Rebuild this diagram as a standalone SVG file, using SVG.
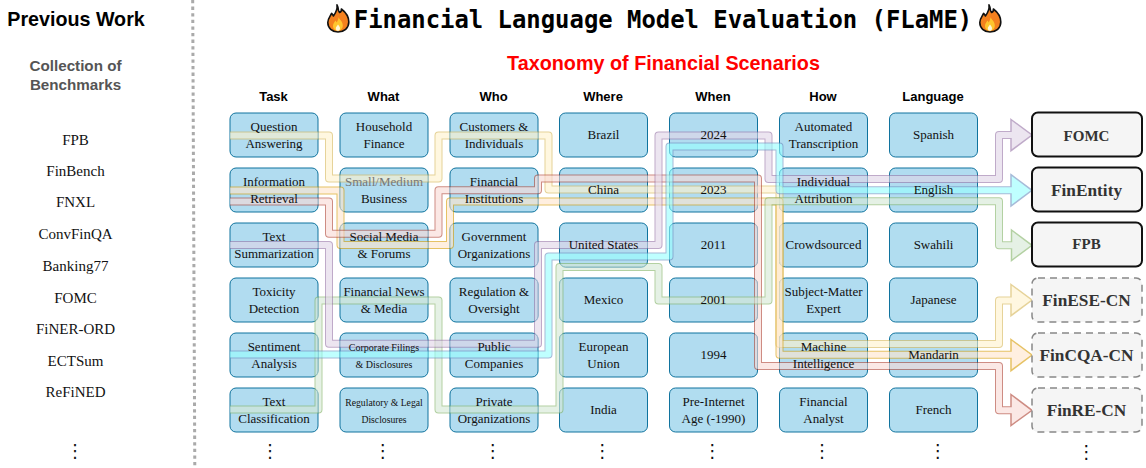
<svg xmlns="http://www.w3.org/2000/svg" xmlns:xlink="http://www.w3.org/1999/xlink" width="1146" height="468" viewBox="0 0 1146 468">
<style>
.n rect{fill:#b1ddf0;stroke:#10739e;stroke-width:1}
.n text{font:13px "Liberation Serif",serif;fill:#111;text-anchor:middle}
.n text.s{font-size:10px}
.n text.t{font-size:9.7px}
.h{font:bold 13px "Liberation Sans",sans-serif;fill:#000;text-anchor:middle}
.b rect{fill:#f5f5f5;stroke:#111;stroke-width:2}
.b.d rect{stroke:#888;stroke-width:1.5;stroke-dasharray:7 5}
.b text{font:bold 17.3px "Liberation Serif",serif;fill:#333;text-anchor:middle}
.l{font:15px "Liberation Serif",serif;fill:#111;text-anchor:middle}
.v{font:18px "DejaVu Sans",sans-serif;fill:#111;text-anchor:middle}
.c{opacity:.6}
.c polyline{fill:none;stroke-linejoin:round}
.c .o{stroke-width:8}
.c .i{stroke-width:6}
.c polygon{stroke-width:1.5;stroke-linejoin:miter}
.yl .o,.yl polygon{stroke:#d6b656}.yl polygon{fill:#fff2cc}.yl .i{stroke:#fff2cc}
.og .o,.og polygon{stroke:#d79b00}.og polygon{fill:#ffe6cc}.og .i{stroke:#ffe6cc}
.rd .o,.rd polygon{stroke:#ae4132}.rd polygon{fill:#fad9d5}.rd .i{stroke:#fad9d5}
.gn .o,.gn polygon{stroke:#82b366}.gn polygon{fill:#d5e8d4}.gn .i{stroke:#d5e8d4}
.pr .o,.pr polygon{stroke:#9673a6}.pr polygon{fill:#e1d5e7}.pr .i{stroke:#e1d5e7}
.cy .o,.cy polygon{stroke:#6c8ebf}.cy polygon{fill:#96ffff}.cy .i{stroke:#96ffff}
</style>
<defs>
<g id="flame">
<path d="M10 0.8C12 4.500 10.500 6.500 12.500 8.500C14 8 14.600 6.600 14.400 5C19 8.500 21.800 13 21.800 18C21.800 24.200 17 28 11 28C5 28 0.800 24 0.800 18.500C0.800 14.500 3.200 12.500 4.600 9.400C5.600 10.200 6 11 6.400 12C8.600 9 10.600 5 10 0.800Z" fill="#f4811f" stroke="#111" stroke-width="1.600" stroke-linejoin="round"/>
<path d="M11.500 13C12.200 15.500 15.800 17.200 15.800 21.600C15.800 24.800 13.600 26.800 11 26.800C8.200 26.800 6 24.800 6 22C6 19.600 7.600 18.400 8.400 16.600C9 17.200 9.400 17.800 9.600 18.400C10.600 17 11.600 15 11.500 13Z" fill="#ffc52e"/>
<path d="M11 20.500C12 22 13 22.800 13 24.400C13 25.800 12 26.800 11 26.800C9.800 26.800 8.800 25.800 8.800 24.400C8.800 22.800 10.200 22.200 11 20.500Z" fill="#fff6d5"/>
</g>
<clipPath id="k11"><rect x="229.500" y="112.500" width="89" height="45" rx="6"/></clipPath>
<clipPath id="k12"><rect x="229.500" y="167.500" width="89" height="45" rx="6"/></clipPath>
<clipPath id="k13"><rect x="229.500" y="222.500" width="89" height="45" rx="6"/></clipPath>
<clipPath id="k14"><rect x="229.500" y="277.500" width="89" height="45" rx="6"/></clipPath>
<clipPath id="k15"><rect x="229.500" y="332.500" width="89" height="45" rx="6"/></clipPath>
<clipPath id="k16"><rect x="229.500" y="387.500" width="89" height="45" rx="6"/></clipPath>
<clipPath id="k22"><rect x="339.500" y="167.500" width="89" height="45" rx="6"/></clipPath>
<clipPath id="k23"><rect x="339.500" y="222.500" width="89" height="45" rx="6"/></clipPath>
<clipPath id="k24"><rect x="339.500" y="277.500" width="89" height="45" rx="6"/></clipPath>
<clipPath id="k25"><rect x="339.500" y="332.500" width="89" height="45" rx="6"/></clipPath>
<clipPath id="k31"><rect x="449.500" y="112.500" width="89" height="45" rx="6"/></clipPath>
<clipPath id="k32"><rect x="449.500" y="167.500" width="89" height="45" rx="6"/></clipPath>
<clipPath id="k33"><rect x="449.500" y="222.500" width="89" height="45" rx="6"/></clipPath>
<clipPath id="k34"><rect x="449.500" y="277.500" width="89" height="45" rx="6"/></clipPath>
<clipPath id="k35"><rect x="449.500" y="332.500" width="89" height="45" rx="6"/></clipPath>
<clipPath id="k36"><rect x="449.500" y="387.500" width="89" height="45" rx="6"/></clipPath>
<clipPath id="k42"><rect x="559" y="167.500" width="89" height="45" rx="6"/></clipPath>
<clipPath id="k43"><rect x="559" y="222.500" width="89" height="45" rx="6"/></clipPath>
<clipPath id="k44"><rect x="559" y="277.500" width="89" height="45" rx="6"/></clipPath>
<clipPath id="k45"><rect x="559" y="332.500" width="89" height="45" rx="6"/></clipPath>
<clipPath id="k46"><rect x="559" y="387.500" width="89" height="45" rx="6"/></clipPath>
<clipPath id="k51"><rect x="669" y="112.500" width="89" height="45" rx="6"/></clipPath>
<clipPath id="k52"><rect x="669" y="167.500" width="89" height="45" rx="6"/></clipPath>
<clipPath id="k53"><rect x="669" y="222.500" width="89" height="45" rx="6"/></clipPath>
<clipPath id="k54"><rect x="669" y="277.500" width="89" height="45" rx="6"/></clipPath>
<clipPath id="k55"><rect x="669" y="332.500" width="89" height="45" rx="6"/></clipPath>
<clipPath id="k61"><rect x="779" y="112.500" width="89" height="45" rx="6"/></clipPath>
<clipPath id="k62"><rect x="779" y="167.500" width="89" height="45" rx="6"/></clipPath>
<clipPath id="k63"><rect x="779" y="222.500" width="89" height="45" rx="6"/></clipPath>
<clipPath id="k64"><rect x="779" y="277.500" width="89" height="45" rx="6"/></clipPath>
<clipPath id="k65"><rect x="779" y="332.500" width="89" height="45" rx="6"/></clipPath>
<clipPath id="k72"><rect x="889" y="167.500" width="89" height="45" rx="6"/></clipPath>
<clipPath id="k75"><rect x="889" y="332.500" width="89" height="45" rx="6"/></clipPath>
</defs>
<rect width="1146" height="468" fill="#fff"/>
<line x1="192.700" y1="0" x2="194.800" y2="468" stroke="#aaa" stroke-width="3" stroke-dasharray="3.300 3.300"/>
<g id="previous-work">
<text x="76" y="26" font-family="Liberation Sans,sans-serif" font-weight="bold" font-size="19.700" text-anchor="middle" fill="#000">Previous Work</text>
<text x="75.500" y="71" font-family="Liberation Sans,sans-serif" font-weight="bold" font-size="15.200" text-anchor="middle" fill="#555">Collection of</text>
<text x="75.500" y="90" font-family="Liberation Sans,sans-serif" font-weight="bold" font-size="15.200" text-anchor="middle" fill="#555">Benchmarks</text>
<text class="l" x="75.500" y="145">FPB</text>
<text class="l" x="75.500" y="176">FinBench</text>
<text class="l" x="75.500" y="207">FNXL</text>
<text class="l" x="75.500" y="239">ConvFinQA</text>
<text class="l" x="75.500" y="271">Banking77</text>
<text class="l" x="75.500" y="303">FOMC</text>
<text class="l" x="75.500" y="334">FiNER-ORD</text>
<text class="l" x="75.500" y="366">ECTSum</text>
<text class="l" x="75.500" y="397">ReFiNED</text>
<text class="v" x="75" y="457">⋮</text>
</g>
<g id="title">
<use xlink:href="#flame" x="327" y="4"/>
<text x="663" y="28" font-family="DejaVu Sans Mono,monospace" font-weight="bold" font-size="23.900" text-anchor="middle" fill="#000">Financial Language Model Evaluation (FLaME)</text>
<use xlink:href="#flame" x="979" y="4"/>
<text x="663.500" y="70" font-family="Liberation Sans,sans-serif" font-weight="bold" font-size="19.800" text-anchor="middle" fill="#f00">Taxonomy of Financial Scenarios</text>
</g>
<g id="headers">
<text class="h" x="273.500" y="101">Task</text>
<text class="h" x="383.500" y="101">What</text>
<text class="h" x="493.500" y="101">Who</text>
<text class="h" x="603" y="101">Where</text>
<text class="h" x="713" y="101">When</text>
<text class="h" x="823" y="101">How</text>
<text class="h" x="933" y="101">Language</text>
</g>
<g id="connectors">
<g class="c yl"><polyline class="o" points="230,135.500 329,135.500 329,178.500 438.500,178.500 438.500,135.500 548.500,135.500 548.500,189.500 779.500,189.500 779.500,344 999,344 999,300.500 1011,300.500"/><polygon points="1011,284.500 1032,300 1011,315.700"/><polyline class="i" points="230,135.500 329,135.500 329,178.500 438.500,178.500 438.500,135.500 548.500,135.500 548.500,189.500 779.500,189.500 779.500,344 999,344 999,300.500 1013,300.500"/></g>
<g class="c og"><polyline class="o" points="230,190.500 340.500,190.500 340.500,245 450,245 450,201.500 779.500,201.500 779.500,354.700 1011,354.700"/><polygon points="1011,339.500 1032,355 1011,370.700"/><polyline class="i" points="230,190.500 340.500,190.500 340.500,245 450,245 450,201.500 779.500,201.500 779.500,354.700 1013,354.700"/></g>
<g class="c rd"><polyline class="o" points="230,201.500 329,201.500 329,233.700 438.500,233.700 438.500,190.300 538,190.300 538,178.500 758,178.500 758,366 999,366 999,410.300 1011,410.300"/><polygon points="1011,394.500 1032,410.300 1011,425.500"/><polyline class="i" points="230,201.500 329,201.500 329,233.700 438.500,233.700 438.500,190.300 538,190.300 538,178.500 758,178.500 758,366 999,366 999,410.300 1013,410.300"/></g>
<g class="c gn"><polyline class="o" points="230,409.500 318.500,409.500 318.500,300.500 438.500,300.500 438.500,409.500 559.500,409.500 559.500,267 658.500,267 658.500,300.500 768.500,300.500 768.500,201.300 999,201.300 999,245.300 1011,245.300"/><polygon points="1011.500,230 1032,245.300 1011.500,260.500"/><polyline class="i" points="230,409.500 318.500,409.500 318.500,300.500 438.500,300.500 438.500,409.500 559.500,409.500 559.500,267 658.500,267 658.500,300.500 768.500,300.500 768.500,201.300 999,201.300 999,245.300 1013,245.300"/></g>
<g class="c pr"><polyline class="o" points="230,245 329,245 329,343.700 538,343.700 538,245 658.500,245 658.500,135.500 768.500,135.500 768.500,179 999,179 999,135 1011,135"/><polygon points="1011,119.500 1032,135 1011,150.700"/><polyline class="i" points="230,245 329,245 329,343.700 538,343.700 538,245 658.500,245 658.500,135.500 768.500,135.500 768.500,179 999,179 999,135 1013,135"/></g>
<g class="c cy"><polyline class="o" points="230,354.500 548.500,354.500 548.500,256.500 669.500,256.500 669.500,146.500 779.500,146.500 779.500,190.300 1011,190.300"/><polygon points="1011,174.700 1032,190.300 1011,206"/><polyline class="i" points="230,354.500 548.500,354.500 548.500,256.500 669.500,256.500 669.500,146.500 779.500,146.500 779.500,190.300 1013,190.300"/></g>
</g>
<g id="n-question" class="n"><rect x="230" y="113" width="88" height="44" rx="6"/><use xlink:href="#connectors" clip-path="url(#k11)"/><text x="274" y="131">Question</text><text x="274" y="148">Answering</text></g>
<g id="n-information" class="n"><rect x="230" y="168" width="88" height="44" rx="6"/><use xlink:href="#connectors" clip-path="url(#k12)"/><text x="274" y="186">Information</text><text x="274" y="203">Retrieval</text></g>
<g id="n-textsum" class="n"><rect x="230" y="223" width="88" height="44" rx="6"/><use xlink:href="#connectors" clip-path="url(#k13)"/><text x="274" y="241">Text</text><text x="274" y="258">Summarization</text></g>
<g id="n-toxicity" class="n"><rect x="230" y="278" width="88" height="44" rx="6"/><use xlink:href="#connectors" clip-path="url(#k14)"/><text x="274" y="296">Toxicity</text><text x="274" y="313">Detection</text></g>
<g id="n-sentiment" class="n"><rect x="230" y="333" width="88" height="44" rx="6"/><use xlink:href="#connectors" clip-path="url(#k15)"/><text x="274" y="351">Sentiment</text><text x="274" y="368">Analysis</text></g>
<g id="n-textclass" class="n"><rect x="230" y="388" width="88" height="44" rx="6"/><use xlink:href="#connectors" clip-path="url(#k16)"/><text x="274" y="406">Text</text><text x="274" y="423">Classification</text></g>
<g id="n-household" class="n"><rect x="340" y="113" width="88" height="44" rx="6"/><text x="384" y="131">Household</text><text x="384" y="148">Finance</text></g>
<g id="n-smallmedium" class="n"><rect x="340" y="168" width="88" height="44" rx="6"/><use xlink:href="#connectors" clip-path="url(#k22)"/><text x="384" y="186" style="fill:#777">Small/Medium</text><text x="384" y="203">Business</text></g>
<g id="n-social" class="n"><rect x="340" y="223" width="88" height="44" rx="6"/><use xlink:href="#connectors" clip-path="url(#k23)"/><text x="384" y="241">Social Media</text><text x="384" y="258">&amp; Forums</text></g>
<g id="n-news" class="n"><rect x="340" y="278" width="88" height="44" rx="6"/><use xlink:href="#connectors" clip-path="url(#k24)"/><text x="384" y="296">Financial News</text><text x="384" y="313">&amp; Media</text></g>
<g id="n-corporate" class="n"><rect x="340" y="333" width="88" height="44" rx="6"/><use xlink:href="#connectors" clip-path="url(#k25)"/><text class="s" x="384" y="351">Corporate Filings</text><text class="s" x="384" y="368">&amp; Disclosures</text></g>
<g id="n-regulatory" class="n"><rect x="340" y="388" width="88" height="44" rx="6"/><text class="t" x="384" y="406">Regulatory &amp; Legal</text><text class="t" x="384" y="423">Disclosures</text></g>
<g id="n-customers" class="n"><rect x="450" y="113" width="88" height="44" rx="6"/><use xlink:href="#connectors" clip-path="url(#k31)"/><text x="494" y="131">Customers &amp;</text><text x="494" y="148">Individuals</text></g>
<g id="n-institutions" class="n"><rect x="450" y="168" width="88" height="44" rx="6"/><use xlink:href="#connectors" clip-path="url(#k32)"/><text x="494" y="186">Financial</text><text x="494" y="203">Institutions</text></g>
<g id="n-government" class="n"><rect x="450" y="223" width="88" height="44" rx="6"/><use xlink:href="#connectors" clip-path="url(#k33)"/><text x="494" y="241">Government</text><text x="494" y="258">Organizations</text></g>
<g id="n-regulation" class="n"><rect x="450" y="278" width="88" height="44" rx="6"/><use xlink:href="#connectors" clip-path="url(#k34)"/><text x="494" y="296">Regulation &amp;</text><text x="494" y="313">Oversight</text></g>
<g id="n-public" class="n"><rect x="450" y="333" width="88" height="44" rx="6"/><use xlink:href="#connectors" clip-path="url(#k35)"/><text x="494" y="351">Public</text><text x="494" y="368">Companies</text></g>
<g id="n-private" class="n"><rect x="450" y="388" width="88" height="44" rx="6"/><use xlink:href="#connectors" clip-path="url(#k36)"/><text x="494" y="406">Private</text><text x="494" y="423">Organizations</text></g>
<g id="n-brazil" class="n"><rect x="559.500" y="113" width="88" height="44" rx="6"/><text x="603.500" y="139">Brazil</text></g>
<g id="n-china" class="n"><rect x="559.500" y="168" width="88" height="44" rx="6"/><use xlink:href="#connectors" clip-path="url(#k42)"/><text x="603.500" y="194">China</text></g>
<g id="n-us" class="n"><rect x="559.500" y="223" width="88" height="44" rx="6"/><use xlink:href="#connectors" clip-path="url(#k43)"/><text x="603.500" y="249">United States</text></g>
<g id="n-mexico" class="n"><rect x="559.500" y="278" width="88" height="44" rx="6"/><use xlink:href="#connectors" clip-path="url(#k44)"/><text x="603.500" y="304">Mexico</text></g>
<g id="n-eu" class="n"><rect x="559.500" y="333" width="88" height="44" rx="6"/><use xlink:href="#connectors" clip-path="url(#k45)"/><text x="603.500" y="351">European</text><text x="603.500" y="368">Union</text></g>
<g id="n-india" class="n"><rect x="559.500" y="388" width="88" height="44" rx="6"/><use xlink:href="#connectors" clip-path="url(#k46)"/><text x="603.500" y="414">India</text></g>
<g id="n-2024" class="n"><rect x="669.500" y="113" width="88" height="44" rx="6"/><use xlink:href="#connectors" clip-path="url(#k51)"/><text x="713.500" y="139">2024</text></g>
<g id="n-2023" class="n"><rect x="669.500" y="168" width="88" height="44" rx="6"/><use xlink:href="#connectors" clip-path="url(#k52)"/><text x="713.500" y="194">2023</text></g>
<g id="n-2011" class="n"><rect x="669.500" y="223" width="88" height="44" rx="6"/><use xlink:href="#connectors" clip-path="url(#k53)"/><text x="713.500" y="249">2011</text></g>
<g id="n-2001" class="n"><rect x="669.500" y="278" width="88" height="44" rx="6"/><use xlink:href="#connectors" clip-path="url(#k54)"/><text x="713.500" y="304">2001</text></g>
<g id="n-1994" class="n"><rect x="669.500" y="333" width="88" height="44" rx="6"/><use xlink:href="#connectors" clip-path="url(#k55)"/><text x="713.500" y="359">1994</text></g>
<g id="n-preinternet" class="n"><rect x="669.500" y="388" width="88" height="44" rx="6"/><text x="713.500" y="406">Pre-Internet</text><text x="713.500" y="423">Age (-1990)</text></g>
<g id="n-automated" class="n"><rect x="779.500" y="113" width="88" height="44" rx="6"/><use xlink:href="#connectors" clip-path="url(#k61)"/><text x="823.500" y="131">Automated</text><text x="823.500" y="148">Transcription</text></g>
<g id="n-individual" class="n"><rect x="779.500" y="168" width="88" height="44" rx="6"/><use xlink:href="#connectors" clip-path="url(#k62)"/><text x="823.500" y="186">Individual</text><text x="823.500" y="203">Attribution</text></g>
<g id="n-crowd" class="n"><rect x="779.500" y="223" width="88" height="44" rx="6"/><use xlink:href="#connectors" clip-path="url(#k63)"/><text x="823.500" y="249">Crowdsourced</text></g>
<g id="n-sme" class="n"><rect x="779.500" y="278" width="88" height="44" rx="6"/><use xlink:href="#connectors" clip-path="url(#k64)"/><text x="823.500" y="296">Subject-Matter</text><text x="823.500" y="313">Expert</text></g>
<g id="n-machine" class="n"><rect x="779.500" y="333" width="88" height="44" rx="6"/><use xlink:href="#connectors" clip-path="url(#k65)"/><text x="823.500" y="351">Machine</text><text x="823.500" y="368">Intelligence</text></g>
<g id="n-analyst" class="n"><rect x="779.500" y="388" width="88" height="44" rx="6"/><text x="823.500" y="406">Financial</text><text x="823.500" y="423">Analyst</text></g>
<g id="n-spanish" class="n"><rect x="889.500" y="113" width="88" height="44" rx="6"/><text x="933.500" y="139">Spanish</text></g>
<g id="n-english" class="n"><rect x="889.500" y="168" width="88" height="44" rx="6"/><use xlink:href="#connectors" clip-path="url(#k72)"/><text x="933.500" y="194">English</text></g>
<g id="n-swahili" class="n"><rect x="889.500" y="223" width="88" height="44" rx="6"/><text x="933.500" y="249">Swahili</text></g>
<g id="n-japanese" class="n"><rect x="889.500" y="278" width="88" height="44" rx="6"/><text x="933.500" y="304">Japanese</text></g>
<g id="n-mandarin" class="n"><rect x="889.500" y="333" width="88" height="44" rx="6"/><use xlink:href="#connectors" clip-path="url(#k75)"/><text x="933.500" y="359">Mandarin</text></g>
<g id="n-french" class="n"><rect x="889.500" y="388" width="88" height="44" rx="6"/><text x="933.500" y="414">French</text></g>
<g id="b-fomc" class="b"><rect x="1032" y="112.500" width="110" height="44" rx="6"/><text x="1086.500" y="141" style="font-size:15px">FOMC</text></g>
<g id="b-finentity" class="b"><rect x="1032" y="167.500" width="110" height="44" rx="6"/><text x="1086.500" y="196">FinEntity</text></g>
<g id="b-fpb" class="b"><rect x="1032" y="222.500" width="110" height="44" rx="6"/><text x="1086.500" y="249" style="font-size:15px">FPB</text></g>
<g id="b-finese" class="b d"><rect x="1032" y="278" width="110" height="44" rx="6"/><text x="1086.500" y="306">FinESE-CN</text></g>
<g id="b-fincqa" class="b d"><rect x="1032" y="333" width="110" height="44" rx="6"/><text x="1086.500" y="361">FinCQA-CN</text></g>
<g id="b-finre" class="b d"><rect x="1032" y="388" width="110" height="44" rx="6"/><text x="1086.500" y="416">FinRE-CN</text></g>
<g id="ellipses">
<text class="v" x="270" y="457">⋮</text><text class="v" x="382.700" y="457">⋮</text><text class="v" x="492.700" y="457">⋮</text><text class="v" x="602.300" y="457">⋮</text><text class="v" x="712.300" y="457">⋮</text><text class="v" x="822" y="457">⋮</text><text class="v" x="937.700" y="457">⋮</text><text class="v" x="1086.300" y="458">⋮</text>
</g>
</svg>
